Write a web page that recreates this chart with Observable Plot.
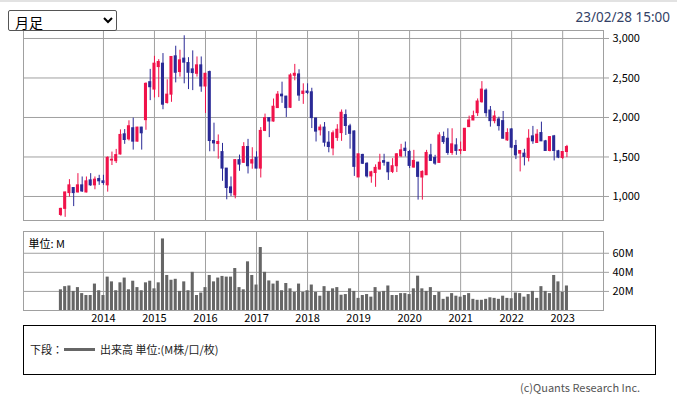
<!DOCTYPE html>
<html>
<head>
<meta charset="utf-8">
<script src="https://cdn.jsdelivr.net/npm/d3@7"></script>
<script src="https://cdn.jsdelivr.net/npm/@observablehq/plot@0.6"></script>
<style>
  html, body { margin: 0; padding: 0; background: #fff; }
  body { font-family: "Noto Sans CJK JP", "Noto Sans", sans-serif; }
  #wrap { position: relative; width: 677px; height: 398px; overflow: hidden; background: #fff; }
  #topbar { position: absolute; left: 0; top: 0; width: 677px; height: 2px; background: #e2e2e2; }
  #sel { position: absolute; left: 8px; top: 10px; width: 109px; height: 21px; font-size: 14px;
         font-family: "Noto Sans CJK JP", sans-serif; border: 1px solid #555; border-radius: 2px;
         background: #fff; color: #000; padding: 0 2px; }
  #stamp { position: absolute; right: 7px; top: 8px; font-size: 13.5px; color: #333f66;
           font-family: "Noto Sans", sans-serif; }
  #price { position: absolute; left: 0; top: 0; }
  #vol { position: absolute; left: 0; top: 225px; }
  #legend { position: absolute; left: 23px; top: 325px; width: 633px; height: 50px; box-sizing: border-box;
            border: 1px solid #000; font-size: 11px; color: #222; }
  #legend .t1 { position: absolute; left: 6px; top: 15px; }
  #legend .ln { position: absolute; left: 40px; top: 22px; width: 31px; height: 3px; background: #666; }
  #legend .t2 { position: absolute; left: 76px; top: 15px; }
  #copy { position: absolute; left: 520px; top: 379px; font-size: 11px; color: #555; }
  svg { overflow: visible; }
</style>
</head>
<body>
<div id="wrap">
  <div id="topbar"></div>
  <div id="price"></div>
  <div id="vol"></div>
  <select id="sel"><option>月足</option></select>
  <div id="stamp">23/02/28 15:00</div>
  <div id="legend"><span class="t1">下段：</span><span class="ln"></span><span class="t2">出来高 単位:(M株/口/枚)</span></div>
  <div id="copy">(c)Quants Research Inc.</div>
</div>
<script>
const months = [
  "2013-03","2013-04","2013-05","2013-06","2013-07","2013-08","2013-09","2013-10","2013-11","2013-12",
  "2014-01","2014-02","2014-03","2014-04","2014-05","2014-06","2014-07","2014-08","2014-09","2014-10","2014-11","2014-12",
  "2015-01","2015-02","2015-03","2015-04","2015-05","2015-06","2015-07","2015-08","2015-09","2015-10","2015-11","2015-12",
  "2016-01","2016-02","2016-03","2016-04","2016-05","2016-06","2016-07","2016-08","2016-09","2016-10","2016-11","2016-12",
  "2017-01","2017-02","2017-03","2017-04","2017-05","2017-06","2017-07","2017-08","2017-09","2017-10","2017-11","2017-12",
  "2018-01","2018-02","2018-03","2018-04","2018-05","2018-06","2018-07","2018-08","2018-09","2018-10","2018-11","2018-12",
  "2019-01","2019-02","2019-03","2019-04","2019-05","2019-06","2019-07","2019-08","2019-09","2019-10","2019-11","2019-12",
  "2020-01","2020-02","2020-03","2020-04","2020-05","2020-06","2020-07","2020-08","2020-09","2020-10","2020-11","2020-12",
  "2021-01","2021-02","2021-03","2021-04","2021-05","2021-06","2021-07","2021-08","2021-09","2021-10","2021-11","2021-12",
  "2022-01","2022-02","2022-03","2022-04","2022-05","2022-06","2022-07","2022-08","2022-09","2022-10","2022-11","2022-12",
  "2023-01","2023-02"
];
const openP = [
  766,843,1043,1107,1051,1141,1051,1204,1141,1221,
  1192,1141,1455,1447,1532,1787,1723,1864,1694,1872,1966,2447,
  2353,2638,2681,2183,2289,2774,2575,2745,2689,2609,2553,2660,
  2392,2575,1702,1664,1562,1353,1115,1013,1460,1426,1626,1417,
  1489,1353,1830,1992,1949,2119,2289,2264,2123,2528,2545,2298,
  2328,2319,1987,1838,1872,1681,1608,1741,1802,2030,1888,1823,
  1241,1526,1414,1254,1297,1341,1448,1427,1311,1383,1509,1605,
  1563,1366,1429,1240,1269,1521,1488,1425,1752,1731,1551,1647,
  1576,1576,1878,1962,2055,2193,2340,2088,1954,1975,1954,1710,
  1849,1639,1542,1542,1488,1761,1677,1803,1698,1576,1761,1572,
  1488,1563
];
const highP = [
  851,1055,1213,1110,1289,1247,1247,1289,1247,1268,
  1268,1502,1562,1596,1843,1847,1958,1992,1875,1875,2438,2609,
  2774,2732,2809,2477,2770,2902,2851,3034,2757,2843,2766,2766,
  2560,2587,1928,1779,1672,1353,1247,1468,1524,1681,1723,1617,
  1566,1872,2043,1995,2234,2328,2447,2268,2553,2672,2604,2426,
  2426,2370,1990,1906,1936,1821,1830,1909,2095,2095,1914,1830,
  1534,1534,1427,1319,1400,1534,1534,1430,1479,1542,1660,1689,
  1584,1584,1432,1324,1584,1660,1521,1807,1815,1857,1857,1731,
  1689,1860,2017,2080,2235,2454,2361,2139,2080,2004,2076,1857,
  1857,1710,1580,1597,1845,1887,1845,1941,1710,1755,1773,1584,
  1565,1647
];
const lowP = [
  745,736,992,872,1045,1051,1045,1128,1085,1141,
  1141,1055,1392,1417,1525,1660,1702,1587,1690,1587,1838,2213,
  2247,2251,2098,2170,2192,2438,2511,2426,2353,2340,2511,2319,
  2051,1566,1566,1472,1192,958,1000,970,1319,1420,1285,1345,
  1350,1234,1821,1745,1941,2115,2179,2000,2115,2464,2204,2166,
  2290,1860,1690,1766,1626,1553,1515,1698,1698,1772,1599,1254,
  1241,1405,1233,1168,1116,1335,1384,1203,1290,1303,1492,1500,
  1353,1360,954,954,1265,1445,1395,1420,1660,1521,1521,1521,
  1530,1570,1875,1960,2013,2181,2004,1878,1920,1828,1728,1698,
  1605,1467,1311,1387,1437,1660,1675,1695,1573,1565,1450,1479,
  1467,1492
];
const closeP = [
  843,1051,1141,1043,1141,1064,1192,1141,1213,1192,
  1170,1489,1465,1524,1779,1715,1889,1694,1872,1800,2426,2383,
  2681,2702,2162,2289,2766,2566,2723,2694,2566,2562,2660,2392,
  2553,1702,1672,1690,1353,1107,1043,1460,1404,1626,1383,1460,
  1353,1830,1992,1949,2136,2289,2268,2119,2532,2553,2277,2328,
  2311,1992,1821,1872,1681,1626,1800,1845,2060,1892,1793,1375,
  1534,1414,1254,1306,1362,1427,1427,1306,1383,1534,1584,1576,
  1387,1450,1248,1311,1551,1450,1416,1773,1689,1551,1660,1576,
  1588,1857,1962,2017,2202,2353,2055,1954,2013,1891,1731,1803,
  1618,1521,1576,1500,1731,1698,1782,1698,1576,1752,1576,1492,
  1563,1626
];
const volumeM = [
  21.7,25,25.7,20,24,17.7,15.7,15.7,27.7,20.7,
  15.7,35,30,20.7,29,34,21.7,30.7,24,20.7,29,30.7,
  22.7,29,75,36.7,31.7,32.7,20,30,20.7,40,15.7,18.3,
  24,36.7,30,34,35.7,35,35,44,24,21.7,51,36.7,
  26.7,66,40,31,27.7,30.7,20.7,28.3,22.7,19,27.7,19,
  20.7,26.7,19,15,25,20,22.7,24,16,16.7,22.7,20,
  12.7,15.7,16.7,14,24,19,20,25.7,15.7,15.7,17.7,17.7,
  16.7,22.7,36,22.7,20,24,15.7,19,11.7,14,17.7,15,
  14,15.7,17.7,11.7,10.7,10.7,11.7,13.3,12.7,11.7,15,12.7,
  12.3,18.3,17.7,14,16.7,20,12.7,25,20,17.7,36.7,30,
  19,25.7
];
const yearLabels = ["2014","2015","2016","2017","2018","2019","2020","2021","2022","2023"];
const priceTicks = [1000, 1500, 2000, 2500, 3000];
const volumeTicks = [20, 40, 60];

const RED = "#f0124a", BLUE = "#2a2a96", GRID = "#a0a0a0", VOL = "#666666";
const FONT = '"Noto Sans CJK JP", "Noto Sans", sans-serif';

const data = months.map((m, i) => ({
  i, m, o: openP[i], h: highP[i], l: lowP[i], c: closeP[i], v: volumeM[i], up: closeP[i] >= openP[i]
}));
const ups = data.filter(d => d.up), downs = data.filter(d => !d.up);
const yearIdx = yearLabels.map(y => months.indexOf(y + "-01"));
const xDomain = [-8.8, 127.6];
const hw = 0.36;

const price = Plot.plot({
  width: 677, height: 225,
  marginLeft: 23, marginRight: 74, marginTop: 30, marginBottom: 5,
  style: { fontFamily: FONT, fontSize: "11px", color: "#000", background: "transparent" },
  x: { domain: xDomain, axis: null },
  y: { domain: [696, 3101], axis: null },
  marks: [
    Plot.ruleX(yearIdx, { x: d => d, stroke: GRID }),
    Plot.ruleY(priceTicks, { y: d => d, stroke: GRID }),
    Plot.ruleX(ups, { x: "i", y1: "l", y2: "h", stroke: RED, strokeWidth: 1 }),
    Plot.ruleX(downs, { x: "i", y1: "l", y2: "h", stroke: BLUE, strokeWidth: 1 }),
    Plot.rect(ups, { x1: d => d.i - hw, x2: d => d.i + hw, y1: "o", y2: "c", fill: RED, insetTop: -0.5, insetBottom: -0.5 }),
    Plot.rect(downs, { x1: d => d.i - hw, x2: d => d.i + hw, y1: "o", y2: "c", fill: BLUE, insetTop: -0.5, insetBottom: -0.5 }),
    Plot.frame({ stroke: GRID }),
    Plot.axisY(priceTicks, { anchor: "right", label: null, tickSize: 5, tickPadding: 4, stroke: GRID, fill: "#000", tickFormat: d3.format(",") })
  ]
});
document.getElementById("price").appendChild(price);

const vol = Plot.plot({
  width: 677, height: 110,
  marginLeft: 23, marginRight: 74, marginTop: 6, marginBottom: 25,
  style: { fontFamily: FONT, fontSize: "11px", color: "#000", background: "transparent" },
  x: { domain: xDomain, axis: null },
  y: { domain: [0, 82.8], axis: null },
  marks: [
    Plot.ruleX(yearIdx, { x: d => d, stroke: GRID }),
    Plot.ruleY(volumeTicks, { y: d => d, stroke: GRID }),
    Plot.rect(data, { x1: d => d.i - hw, x2: d => d.i + hw, y1: 0, y2: "v", fill: VOL }),
    Plot.frame({ stroke: GRID }),
    Plot.axisY(volumeTicks, { anchor: "right", label: null, tickSize: 5, tickPadding: 4, stroke: GRID, fill: "#000", tickFormat: d => d + "M" }),
    Plot.axisX(yearIdx, { anchor: "bottom", label: null, tickSize: 0, tickPadding: 4, fill: "#000", tickFormat: d => months[d].slice(0, 4) }),
    Plot.text(["単位: M"], { frameAnchor: "top-left", dx: 5, dy: 9, textAnchor: "start", fill: "#000", fontSize: 11 })
  ]
});
document.getElementById("vol").appendChild(vol);
</script>
</body>
</html>
